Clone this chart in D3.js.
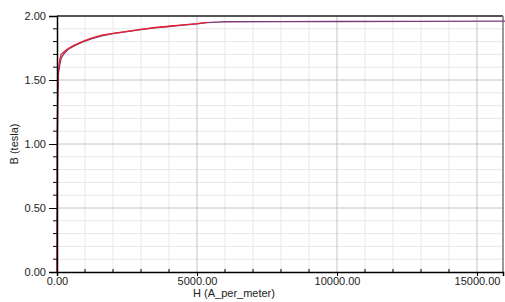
<!DOCTYPE html>
<html>
<head>
<meta charset="utf-8">
<script src="https://cdn.jsdelivr.net/npm/d3@7"></script>
<style>
  body { margin: 0; background: #fff; }
  text { font-family: "Liberation Sans", Arial, sans-serif; }
</style>
</head>
<body>
<svg id="chart" width="505" height="302"></svg>
<script>
// B-H curve readings (H in A/m, B in tesla)
const h_red = [0, 10, 25, 50, 100, 150, 250, 400, 600, 900, 1200, 1600, 2000, 2500, 3000, 3500, 4000, 4500, 5000, 5350]
const b_red = [0, 1.0, 1.4, 1.58, 1.66, 1.70, 1.72, 1.745, 1.77, 1.80, 1.825, 1.85, 1.865, 1.88, 1.895, 1.91, 1.92, 1.93, 1.94, 1.95]
const h_fit = [0, 10, 25, 50, 100, 150, 250, 400, 600, 900, 1200, 1600, 2000, 2500, 3000, 3500, 4000, 4500, 5000, 5350, 6000, 8000, 10000, 13000, 16000]
const b_fit = [0, 0.95, 1.35, 1.55, 1.62, 1.67, 1.705, 1.74, 1.765, 1.795, 1.82, 1.845, 1.862, 1.878, 1.893, 1.907, 1.918, 1.928, 1.938, 1.948, 1.955, 1.956, 1.957, 1.958, 1.96]
const x_ticks = [0, 5000, 10000, 15000]
const y_ticks = [0, 0.5, 1.0, 1.5, 2.0]

const margin = {left: 57, right: 2, top: 16, bottom: 30}
const W = 505, H = 302
const svg = d3.select("#chart")

const x = d3.scaleLinear().domain([0, 15930]).range([margin.left, W - margin.right])
const y = d3.scaleLinear().domain([0, 2]).range([H - margin.bottom, margin.top])

const minorX = d3.range(1000, 16000, 1000).filter(v => v % 5000 != 0)
const minorY = d3.range(0.1, 2.0, 0.1).map(v => +v.toFixed(1)).filter(v => !y_ticks.includes(v))

// grid
let grid = svg.append("g")
minorX.forEach(v => grid.append("line")
  .attr("x1", x(v)).attr("x2", x(v)).attr("y1", y(0)).attr("y2", y(2))
  .attr("stroke", "#e8e8e8").attr("stroke-width", 1))
minorY.forEach(v => grid.append("line")
  .attr("x1", x.range()[0]).attr("x2", x.range()[1]).attr("y1", y(v)).attr("y2", y(v))
  .attr("stroke", "#e8e8e8").attr("stroke-width", 1))
x_ticks.slice(1).forEach(v => grid.append("line")
  .attr("x1", x(v)).attr("x2", x(v)).attr("y1", y(0)).attr("y2", y(2))
  .attr("stroke", "#c4c4c4").attr("stroke-width", 1))
y_ticks.slice(1, 4).forEach(v => grid.append("line")
  .attr("x1", x.range()[0]).attr("x2", x.range()[1]).attr("y1", y(v)).attr("y2", y(v))
  .attr("stroke", "#c4c4c4").attr("stroke-width", 1))

// frame top / right
svg.append("line").attr("x1", x.range()[0]).attr("x2", x.range()[1])
  .attr("y1", y(2)).attr("y2", y(2)).attr("stroke", "#555").attr("stroke-width", 2)
svg.append("line").attr("x1", x.range()[1]).attr("x2", x.range()[1])
  .attr("y1", y(2)).attr("y2", y(0)).attr("stroke", "#777").attr("stroke-width", 1.5)

// lines
const line = d3.line().x(d => x(d[0])).y(d => y(d[1]))
svg.append("path").datum(d3.zip(h_fit, b_fit))
  .attr("d", line).attr("fill", "none").attr("stroke", "#7d3a78").attr("stroke-width", 1.3)
svg.append("path").datum(d3.zip(h_red, b_red))
  .attr("d", line).attr("fill", "none").attr("stroke", "#e8202e").attr("stroke-width", 1.3)

// axes
const yAxis = svg.append("g").attr("transform", `translate(${margin.left},0)`)
  .call(d3.axisLeft(y).tickValues(y_ticks).tickFormat(d3.format(".2f")).tickSize(8).tickPadding(3))
yAxis.append("g").selectAll("line").data(minorY).enter().append("line")
  .attr("x1", -4).attr("x2", 0).attr("y1", d => y(d)).attr("y2", d => y(d)).attr("stroke", "#000")
const xAxis = svg.append("g").attr("transform", `translate(0,${y(0)})`)
  .call(d3.axisBottom(x).tickValues(x_ticks).tickFormat(d3.format(".2f")).tickSize(4).tickPadding(1))
xAxis.append("g").selectAll("line").data(minorX).enter().append("line")
  .attr("x1", d => x(d)).attr("x2", d => x(d)).attr("y1", -3).attr("y2", 0).attr("stroke", "#000")

svg.selectAll(".domain").attr("stroke", "#000").attr("stroke-width", 1.5)
svg.selectAll(".tick text").attr("font-size", 11).attr("fill", "#222")
  .attr("font-family", "Liberation Sans, Arial, sans-serif")

// titles
svg.append("text").attr("x", 234).attr("y", 297).attr("text-anchor", "middle")
  .attr("font-size", 11).attr("fill", "#222").text("H (A_per_meter)")
svg.append("text").attr("transform", `translate(18,${y(1)}) rotate(-90)`).attr("text-anchor", "middle")
  .attr("font-size", 11).attr("fill", "#222").text("B (tesla)")
</script>
</body>
</html>
